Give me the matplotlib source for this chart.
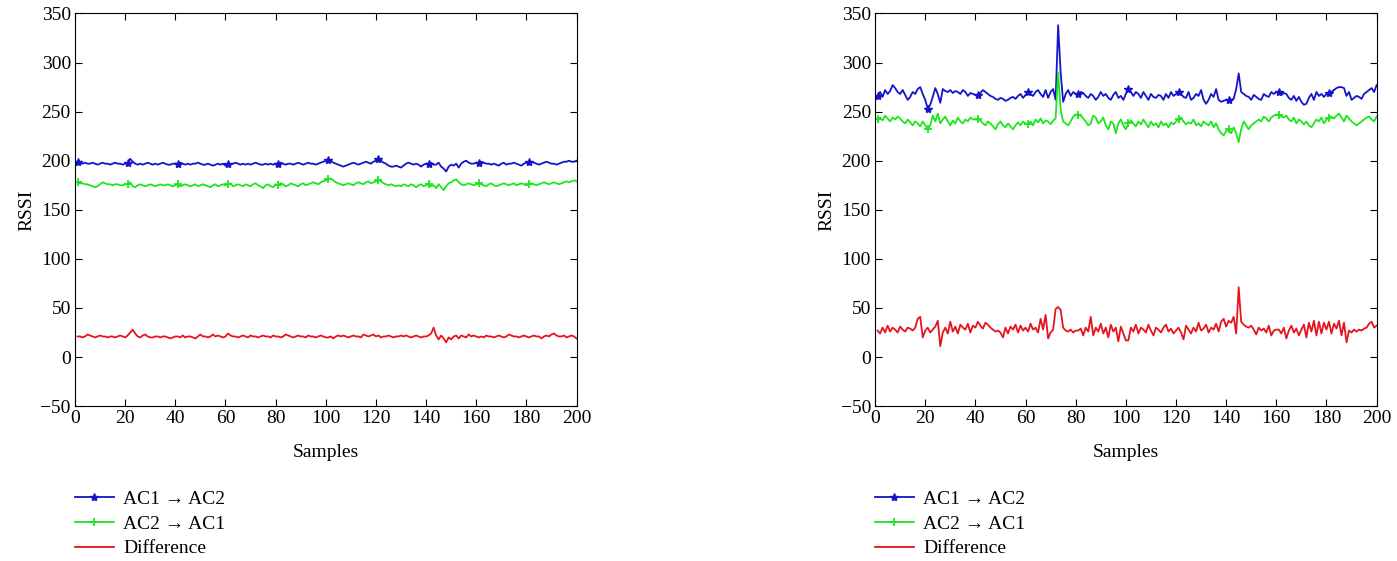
import numpy as np
from matplotlib import pyplot as plt

plt.rcParams['font.family'] = ['Liberation Serif', 'DejaVu Serif']

samples = np.arange(1, 201)

# left panel
left_ac1_ac2 = [
    199, 198, 197, 198, 197, 197, 198, 197, 196, 197, 198, 197, 197, 196, 197, 198, 197, 197, 196, 197,
    198, 202, 199, 197, 196, 197, 196, 197, 198, 197, 196, 197, 196, 197, 198, 197, 196, 196, 197, 197,
    197, 198, 197, 196, 197, 196, 197, 197, 198, 197, 196, 196, 197, 196, 195, 196, 197, 196, 197, 195,
    197, 196, 197, 198, 197, 196, 197, 196, 197, 196, 197, 198, 197, 196, 196, 197, 196, 197, 196, 197,
    197, 198, 197, 196, 197, 197, 196, 197, 198, 197, 196, 197, 198, 197, 197, 196, 197, 198, 199, 200,
    201, 200, 198, 197, 196, 195, 194, 195, 196, 197, 198, 197, 196, 197, 198, 199, 198, 197, 199, 200,
    202, 200, 198, 197, 195, 194, 194, 195, 194, 193, 195, 197, 198, 197, 196, 197, 196, 194, 196, 197,
    197, 198, 196, 196, 198, 194, 192, 189, 194, 196, 195, 197, 193, 197, 199, 200, 198, 197, 197, 198,
    198, 199, 198, 197, 197, 196, 197, 196, 195, 197, 198, 196, 197, 197, 198, 197, 196, 195, 197, 198,
    199, 199, 198, 197, 196, 197, 198, 199, 198, 197, 197, 196, 197, 198, 199, 199, 200, 199, 199, 200]

left_ac2_ac1 = [
    178, 177, 177, 176, 176, 175, 174, 173, 174, 176, 178, 177, 176, 176, 175, 176, 176, 175, 175, 176,
    176, 178, 174, 173, 175, 176, 175, 174, 175, 176, 175, 174, 175, 176, 175, 175, 176, 175, 174, 175,
    176, 174, 175, 176, 175, 174, 175, 176, 174, 175, 176, 175, 174, 173, 175, 176, 174, 175, 176, 175,
    176, 177, 174, 175, 176, 175, 174, 176, 175, 174, 176, 177, 175, 174, 172, 175, 176, 174, 173, 176,
    175, 177, 176, 174, 175, 177, 176, 175, 174, 176, 177, 175, 176, 177, 178, 177, 176, 178, 179, 180,
    181, 182, 180, 178, 177, 176, 175, 176, 177, 176, 175, 177, 178, 177, 176, 178, 179, 177, 178, 179,
    180, 179, 177, 176, 175, 176, 175, 174, 175, 174, 176, 175, 174, 176, 175, 173, 175, 176, 174, 175,
    176, 174, 175, 172, 176, 173, 170, 174, 177, 178, 180, 181, 178, 176, 175, 176, 177, 176, 175, 176,
    177, 176, 175, 174, 176, 177, 175, 174, 175, 176, 177, 176, 175, 176, 177, 175, 176, 177, 176, 175,
    176, 177, 176, 175, 176, 177, 178, 177, 176, 177, 178, 177, 176, 177, 178, 179, 178, 179, 180, 179]

left_diff = [
    21, 21, 20, 21, 23, 22, 21, 20, 21, 22, 21, 21, 20, 21, 21, 20, 21, 22, 21, 20,
    22, 25, 28, 24, 21, 20, 22, 23, 21, 20, 20, 21, 21, 20, 21, 21, 20, 19, 20, 21,
    21, 20, 22, 20, 21, 21, 20, 19, 21, 23, 21, 21, 20, 21, 23, 21, 22, 21, 20, 21,
    24, 22, 21, 21, 20, 21, 22, 21, 20, 22, 21, 21, 20, 21, 22, 21, 21, 20, 22, 21,
    21, 20, 21, 23, 22, 21, 20, 21, 22, 21, 21, 20, 22, 21, 21, 20, 21, 22, 21, 20,
    20, 21, 19, 21, 22, 21, 22, 21, 20, 21, 22, 21, 21, 20, 23, 22, 21, 22, 23, 21,
    22, 20, 21, 21, 22, 21, 20, 21, 21, 22, 21, 22, 21, 20, 21, 22, 21, 20, 21, 21,
    22, 24, 30, 22, 18, 22, 19, 15, 20, 18, 21, 22, 19, 22, 21, 20, 23, 21, 22, 21,
    20, 21, 20, 22, 21, 21, 20, 21, 22, 21, 20, 21, 23, 22, 21, 21, 20, 21, 22, 21,
    20, 21, 22, 21, 21, 19, 21, 22, 21, 23, 24, 22, 21, 21, 22, 20, 21, 22, 21, 19]

# right panel
right_ac1_ac2 = [
    266, 270, 265, 272, 268, 271, 277, 274, 270, 268, 272, 267, 262, 265, 270, 268, 273, 275, 268, 262,
    253, 257, 265, 274, 268, 259, 273, 271, 270, 272, 269, 271, 270, 268, 272, 270, 266, 269, 268, 267,
    267, 269, 272, 270, 268, 266, 265, 263, 262, 264, 263, 261, 262, 264, 265, 263, 266, 268, 264, 267,
    270, 268, 266, 270, 272, 268, 265, 272, 264, 270, 273, 262, 338, 290, 260, 268, 272, 266, 270, 268,
    268, 270, 269, 266, 264, 268, 266, 262, 265, 270, 266, 268, 264, 262, 267, 270, 264, 266, 262, 268,
    273, 270, 266, 270, 268, 264, 270, 266, 262, 268, 265, 264, 267, 266, 262, 268, 264, 270, 266, 268,
    270, 268, 265, 264, 270, 262, 264, 268, 266, 272, 262, 258, 262, 268, 265, 273, 262, 260, 261, 262,
    262, 262, 263, 273, 289, 270, 268, 266, 265, 262, 267, 265, 263, 262, 268, 266, 265, 270, 268, 270,
    270, 267, 269, 268, 264, 262, 266, 261, 265, 260, 257, 258, 264, 268, 262, 270, 266, 268, 265, 268,
    269, 270, 272, 274, 275, 275, 274, 266, 270, 262, 264, 266, 265, 263, 268, 270, 272, 274, 270, 277]

right_ac2_ac1 = [
    242, 244, 241, 246, 243, 240, 244, 242, 245, 243, 240, 238, 242, 239, 236, 240, 238, 235, 240, 236,
    232, 236, 246, 240, 248, 238, 242, 245, 240, 236, 241, 238, 244, 240, 238, 242, 240, 244, 242, 242,
    242, 241, 238, 236, 240, 238, 235, 232, 237, 240, 236, 234, 238, 235, 232, 236, 239, 236, 240, 238,
    237, 240, 236, 242, 239, 243, 238, 241, 240, 237, 241, 243, 290, 252, 240, 238, 236, 240, 245, 247,
    247, 246, 243, 240, 236, 238, 246, 244, 238, 240, 244, 236, 232, 240, 238, 228, 238, 242, 236, 232,
    238, 241, 238, 235, 240, 237, 242, 238, 234, 240, 236, 238, 234, 240, 236, 238, 234, 239, 237, 240,
    242, 244, 240, 237, 239, 238, 242, 236, 238, 235, 240, 238, 236, 240, 234, 238, 232, 228, 226, 230,
    232, 228, 234, 228, 219, 232, 240, 236, 232, 236, 238, 240, 242, 240, 245, 243, 240, 244, 246, 247,
    247, 245, 244, 246, 242, 240, 244, 238, 242, 240, 237, 240, 236, 234, 238, 242, 240, 244, 238, 242,
    244, 245, 243, 246, 248, 244, 240, 246, 243, 240, 238, 236, 238, 240, 242, 244, 245, 242, 240, 245]

right_diff = [
    27, 24, 30, 25, 32, 26, 30, 28, 25, 31, 28, 26, 30, 29, 27, 30, 39, 41, 20, 27,
    30, 25, 28, 31, 37, 11, 25, 30, 24, 36, 26, 31, 24, 33, 30, 28, 34, 25, 32, 30,
    36, 32, 29, 35, 33, 30, 28, 26, 27, 25, 20, 30, 24, 31, 28, 33, 25, 32, 27, 30,
    26, 34, 28, 30, 25, 39, 28, 43, 19, 25, 28, 49, 51, 48, 30, 27, 26, 28, 25, 27,
    27, 29, 22, 30, 26, 41, 22, 30, 26, 34, 24, 30, 20, 33, 26, 30, 16, 31, 24, 17,
    17, 30, 26, 33, 24, 30, 28, 25, 33, 27, 22, 30, 28, 25, 30, 33, 26, 29, 24, 27,
    30, 25, 18, 32, 28, 24, 30, 26, 35, 27, 29, 33, 25, 30, 28, 34, 26, 36, 39, 31,
    37, 35, 41, 24, 71, 36, 33, 31, 30, 32, 28, 23, 30, 27, 29, 25, 32, 22, 27, 28,
    28, 24, 30, 19, 27, 32, 25, 29, 22, 28, 33, 20, 35, 26, 37, 22, 36, 24, 35, 28,
    36, 24, 34, 29, 37, 22, 35, 15, 27, 25, 28, 26, 28, 27, 29, 30, 34, 36, 30, 32]

panels = [(left_ac1_ac2, left_ac2_ac1, left_diff),
          (right_ac1_ac2, right_ac2_ac1, right_diff)]

fig = plt.figure(figsize=(13.97, 5.61), dpi=100)
ax_pos = [[0.0537, 0.276, 0.359, 0.700],
          [0.6264, 0.276, 0.359, 0.700]]

for pos, (ac12, ac21, diff) in zip(ax_pos, panels):
    ax = fig.add_axes(pos)
    ax.plot(samples, ac12, '-*', color='#1414c8', lw=1.3, ms=6, markevery=20, label='AC1 → AC2')
    ax.plot(samples, ac21, '-+', color='#1ee61e', lw=1.3, ms=6, mew=1.3, markevery=20, label='AC2 → AC1')
    ax.plot(samples, diff, '-', color='#e6141e', lw=1.3, label='Difference')
    ax.set_xlim(0, 200)
    ax.set_ylim(-50, 350)
    ax.set_xticks(range(0, 201, 20))
    ax.set_yticks(range(-50, 351, 50))
    ax.tick_params(direction='in', top=True, right=True, labelsize=14, length=5, pad=3)
    ax.set_xlabel('Samples', fontsize=14, labelpad=12)
    ax.set_ylabel('RSSI', fontsize=14, labelpad=4)
    ax.legend(loc='upper left', bbox_to_anchor=(-0.016, -0.195), frameon=False, fontsize=14,
              numpoints=1, handlelength=2.0, handletextpad=0.5, labelspacing=0.36, borderaxespad=0)

plt.savefig('out.png', dpi=100)
